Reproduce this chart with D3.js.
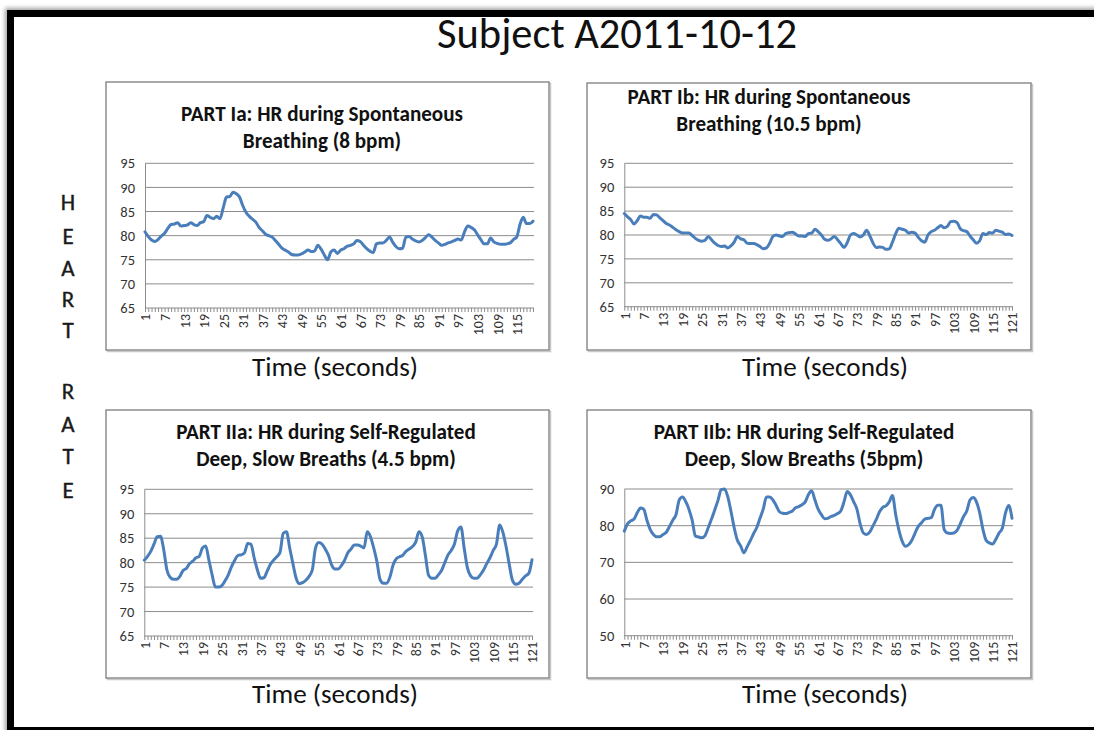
<!DOCTYPE html>
<html lang="en">
  <head>
    <meta charset="utf-8">
    <title>Subject A2011-10-12</title>
    <style type="text/css">
      body{
        margin: 0;
        background: #ffffff;
      }
      svg text{
        font-family: Carlito, Lato, "Open Sans", sans-serif;
      }
    </style>
    <script src="https://cdn.jsdelivr.net/npm/d3@7"></script>
  </head>
  <body>
    <div class="chart"></div>
    <script type="text/javascript">
      //heart rate values, one per second
      var hrPart1a = [
        80.8,79.8,79.1,78.8,79.2,79.9,80.5,81.5,82.3,82.4,
        82.7,82.0,82.1,82.2,82.7,82.3,82.1,82.7,82.9,84.2,
        83.8,83.5,84.0,83.5,85.8,88.0,88.1,89.0,88.7,88.0,
        86.2,84.8,84.0,83.4,82.8,81.7,81.0,80.3,80.0,79.7,
        79.0,78.2,77.4,77.0,76.6,76.1,76.0,76.0,76.2,76.6,
        77.0,76.7,76.8,78.0,77.2,76.0,75.0,76.6,77.0,76.3,
        77.0,77.3,77.8,78.0,78.3,79.0,78.8,78.0,77.3,76.8,
        76.5,78.3,78.5,78.5,79.0,79.7,78.6,77.7,77.3,77.4,
        79.7,79.8,79.3,78.9,78.7,79.0,79.6,80.2,79.7,79.0,
        78.5,78.0,78.2,78.5,78.7,79.0,79.3,79.1,80.8,82.0,
        81.7,81.2,80.2,79.2,78.3,78.3,79.5,78.7,78.4,78.2,
        78.2,78.3,78.5,79.2,79.7,82.3,83.8,82.5,82.5,83.0
      ];

      var hrPart1b = [
        84.5,83.8,83.2,82.3,83.0,84.0,83.7,83.7,83.5,84.3,
        84.2,83.6,83.0,82.4,82.1,81.6,81.1,80.7,80.4,80.4,
        80.4,79.9,79.3,78.9,78.7,78.9,79.7,79.0,78.3,77.8,
        77.6,77.7,77.3,77.7,78.5,79.7,79.2,79.0,78.3,78.2,
        78.2,78.0,77.6,77.1,77.3,78.3,79.7,80.0,79.8,79.7,
        80.3,80.5,80.6,80.2,79.8,79.8,79.7,80.3,80.4,81.2,
        80.7,80.0,79.1,78.9,79.2,79.7,79.0,78.2,77.4,78.4,
        80.0,80.3,80.0,79.6,80.0,81.0,79.8,78.3,77.4,77.5,
        77.4,77.0,77.1,78.5,80.3,81.4,81.2,81.0,80.4,80.6,
        80.4,79.5,78.8,78.5,80.0,80.7,81.0,81.5,82.0,81.5,
        81.8,82.8,82.9,82.6,81.3,80.9,80.7,79.8,79.0,78.3,
        78.8,80.3,80.1,80.5,80.4,81.0,80.8,80.6,80.1,80.2,
        79.9
      ];

      var hrPart2a = [
        80.5,81.3,82.3,83.8,85.3,85.4,82.7,78.5,77.0,76.6,
        76.6,77.2,78.4,78.8,79.8,80.3,81.0,81.3,83.0,83.4,
        80.5,77.5,75.0,75.0,75.3,76.3,77.5,79.2,80.5,81.5,
        81.6,82.0,83.9,83.8,81.0,78.5,76.8,76.9,78.2,79.6,
        80.5,81.2,82.1,86.0,86.3,83.0,79.8,76.8,75.7,75.9,
        76.4,77.2,78.5,83.0,84.1,83.8,82.8,81.5,79.5,78.7,
        78.7,79.4,80.5,82.0,82.8,83.6,83.6,83.4,83.0,86.3,
        85.3,83.0,80.2,76.5,75.8,75.8,77.0,79.5,80.8,81.2,
        81.5,82.3,82.8,83.3,84.2,86.3,85.3,81.5,77.4,76.8,
        76.8,77.5,78.4,80.0,81.6,82.5,83.8,86.5,87.3,83.0,
        79.0,77.3,76.8,76.8,77.5,78.5,79.8,81.0,82.5,83.8,
        87.7,86.2,83.2,79.5,76.3,75.6,75.8,76.6,77.3,77.8,
        80.6
      ];

      var hrPart2b = [
        78.5,80.5,81.3,81.8,83.5,84.8,84.5,81.5,79.0,77.6,
        77.0,77.0,77.6,78.2,79.8,81.5,83.0,87.0,87.8,86.6,
        84.5,81.5,77.2,76.9,76.7,77.3,79.5,81.8,84.3,86.9,
        89.8,90.0,88.0,84.0,79.5,76.0,74.5,72.6,74.2,75.9,
        77.8,79.5,82.0,84.5,87.8,87.8,87.0,85.5,83.8,83.4,
        83.3,83.6,84.0,84.9,85.2,85.7,86.5,88.5,89.5,87.0,
        84.5,83.0,81.9,82.0,82.5,82.8,83.3,84.0,86.5,89.3,
        88.4,86.5,84.5,80.5,78.0,77.6,78.3,80.0,81.7,83.8,
        85.0,85.4,86.5,88.2,83.0,78.8,75.8,74.4,74.8,76.0,
        78.0,79.8,80.8,81.8,82.0,82.2,84.4,85.6,85.6,79.0,
        78.0,77.9,78.0,78.7,80.5,82.5,84.0,87.0,87.7,86.5,
        83.5,79.0,76.0,75.3,75.0,76.3,78.0,79.3,83.5,85.5,
        82.0
      ];

      //y tick values
      var yTicksHigh = [65, 70, 75, 80, 85, 90, 95];
      var yTicksWide = [50, 60, 70, 80, 90];

      //every 6th second gets a label
      var xLabelStep = 6;

      //panel titles (two lines each)
      var titlePart1a = ["PART Ia: HR during Spontaneous", "Breathing (8 bpm)"];
      var titlePart1b = ["PART Ib: HR during Spontaneous", "Breathing (10.5 bpm)"];
      var titlePart2a = ["PART IIa: HR during Self-Regulated", "Deep, Slow Breaths (4.5 bpm)"];
      var titlePart2b = ["PART IIb: HR during Self-Regulated", "Deep, Slow Breaths (5bpm)"];

      var mainTitle = "Subject A2011-10-12";
      var xTitle = "Time (seconds)";
      var sideLetters = ["H", "E", "A", "R", "T", "R", "A", "T", "E"];

      var width = 1094;
      var height = 730;

      var svg = d3.select(".chart")
        .append("svg")
        .attr("width", width)
        .attr("height", height);

      //soft shadow for the black frame
      var defs = svg.append("defs");
      defs.append("filter")
        .attr("id", "blur")
        .attr("x", "-5%").attr("y", "-5%")
        .attr("width", "110%").attr("height", "110%")
        .append("feGaussianBlur")
        .attr("stdDeviation", 2);

      svg.append("path")
        .attr("d", "M8,740V11H1100")
        .attr("fill", "none")
        .attr("stroke", "#a0a0a0")
        .attr("stroke-width", 6)
        .attr("filter", "url(#blur)");

      svg.append("rect")
        .attr("x", 10.5).attr("y", 13.5)
        .attr("width", 1100).attr("height", 717)
        .attr("fill", "#ffffff")
        .attr("stroke", "#000000")
        .attr("stroke-width", 7);

      //fit a text element's font size so it covers the wanted width
      function fitWidth(sel, w){
        var len = sel.node().getComputedTextLength();
        var fs = parseFloat(sel.attr("font-size"));
        sel.attr("font-size", fs * w / len);
        return fs * w / len;
      }

      var title = svg.append("text")
        .attr("x", 617)
        .attr("y", 48)
        .attr("text-anchor", "middle")
        .attr("font-size", 36)
        .attr("fill", "#111")
        .text(mainTitle);
      fitWidth(title, 360);

      //vertical HEART RATE letters
      var letterY = [202, 236, 268, 299, 330, 391, 424, 456, 490];
      svg.selectAll(".side")
        .data(sideLetters)
        .enter()
        .append("text")
        .attr("class", "side")
        .attr("x", 68)
        .attr("y", (d, i) => letterY[i] + 8)
        .attr("text-anchor", "middle")
        .attr("font-size", 23)
        .attr("fill", "#1a1a1a")
        .attr("stroke", "#1a1a1a")
        .attr("stroke-width", 0.4)
        .text(d => d);

      var panels = [
        {box: [106, 82, 443, 268], x0: 145, x1: 533, yTop: 163.3, yBot: 308,
         values: hrPart1a, ticks: yTicksHigh, title: titlePart1a, tx: 322, ty: 121, timeX: 335, timeY: 376},
        {box: [587, 83, 444, 267], x0: 624.3, x1: 1012, yTop: 163.3, yBot: 306.7,
         values: hrPart1b, ticks: yTicksHigh, title: titlePart1b, tx: 769, ty: 104, timeX: 825, timeY: 376},
        {box: [106, 410, 443, 268], x0: 144.3, x1: 532, yTop: 489.3, yBot: 636,
         values: hrPart2a, ticks: yTicksHigh, title: titlePart2a, tx: 326, ty: 439, timeX: 335, timeY: 703},
        {box: [587, 410, 444, 268], x0: 624.3, x1: 1012, yTop: 489, yBot: 635.7,
         values: hrPart2b, ticks: yTicksWide, title: titlePart2b, tx: 804, ty: 439, timeX: 825, timeY: 703}
      ];

      var titleSize = null;
      var timeSize = null;

      panels.forEach(function(p){
        var g = svg.append("g");

        //panel box with a faint shadow
        g.append("rect")
          .attr("x", p.box[0] + 1.5).attr("y", p.box[1] + 1.5)
          .attr("width", p.box[2]).attr("height", p.box[3])
          .attr("fill", "none")
          .attr("stroke", "#c8c8c8")
          .attr("stroke-width", 1.5);
        g.append("rect")
          .attr("x", p.box[0]).attr("y", p.box[1])
          .attr("width", p.box[2]).attr("height", p.box[3])
          .attr("fill", "#ffffff")
          .attr("stroke", "#858585")
          .attr("stroke-width", 1.4);

        var n = p.values.length;
        var x = d3.scaleLinear()
          .domain([1, n])
          .range([p.x0, p.x1]);
        var y = d3.scaleLinear()
          .domain(d3.extent(p.ticks))
          .range([p.yBot, p.yTop]);

        //horizontal gridlines
        g.selectAll(".grid")
          .data(p.ticks.slice(1))
          .enter()
          .append("line")
          .attr("x1", p.x0)
          .attr("x2", p.x1 + 1)
          .attr("y1", d => y(d))
          .attr("y2", d => y(d))
          .attr("stroke", "#8c8c8c")
          .attr("stroke-width", 1);

        //y axis
        var yAxis = g.append("g")
          .attr("transform", `translate(${p.x0},0)`)
          .call(d3.axisLeft(y).tickValues(p.ticks).tickSize(0).tickPadding(10));
        yAxis.select(".domain").attr("stroke", "#8c8c8c");
        yAxis.selectAll("text")
          .attr("font-size", 14.5)
          .attr("fill", "#333")
          .attr("font-family", null);

        //x axis, a small tick for every second, labels every 6th
        var xAxis = g.append("g")
          .attr("transform", `translate(0,${p.yBot})`)
          .call(d3.axisBottom(x)
            .tickValues(d3.range(1, n + 1))
            .tickSize(4)
            .tickFormat(d => (d - 1) % xLabelStep == 0 ? d : ""));
        xAxis.select(".domain").attr("stroke", "#8c8c8c").attr("d", `M${p.x0},0H${p.x1 + 1}`);
        xAxis.selectAll(".tick line").attr("stroke", "#8c8c8c");
        xAxis.selectAll("text")
          .attr("font-size", 14)
          .attr("fill", "#333")
          .attr("font-family", null)
          .attr("transform", "rotate(-90)")
          .attr("text-anchor", "end")
          .attr("x", -6)
          .attr("y", 0)
          .attr("dy", "0.35em");

        //the heart rate line
        var line = d3.line()
          .x((d, i) => x(i + 1))
          .y(d => y(d))
          .curve(d3.curveMonotoneX);

        g.append("path")
          .datum(p.values)
          .attr("d", line)
          .attr("fill", "none")
          .attr("stroke", "#4a7ebb")
          .attr("stroke-width", 3)
          .attr("stroke-linejoin", "round")
          .attr("stroke-linecap", "round");

        //panel title
        var t = g.append("text")
          .attr("text-anchor", "middle")
          .attr("font-weight", "bold")
          .attr("font-size", 17)
          .attr("fill", "#111");
        t.selectAll("tspan")
          .data(p.title)
          .enter()
          .append("tspan")
          .attr("x", p.tx)
          .attr("y", (d, i) => p.ty + i * 26.5)
          .text(d => d);
        if(titleSize == null){
          var first = t.select("tspan");
          var len = first.node().getComputedTextLength();
          titleSize = 17 * 282 / len;
        }
        t.attr("font-size", titleSize);

        //time label under the box
        var tl = g.append("text")
          .attr("x", p.timeX)
          .attr("y", p.timeY)
          .attr("text-anchor", "middle")
          .attr("font-size", 21)
          .attr("fill", "#111")
          .text(xTitle);
        if(timeSize == null){
          timeSize = fitWidth(tl, 166);
        }
        tl.attr("font-size", timeSize);
      });
    </script>
  </body>
</html>
